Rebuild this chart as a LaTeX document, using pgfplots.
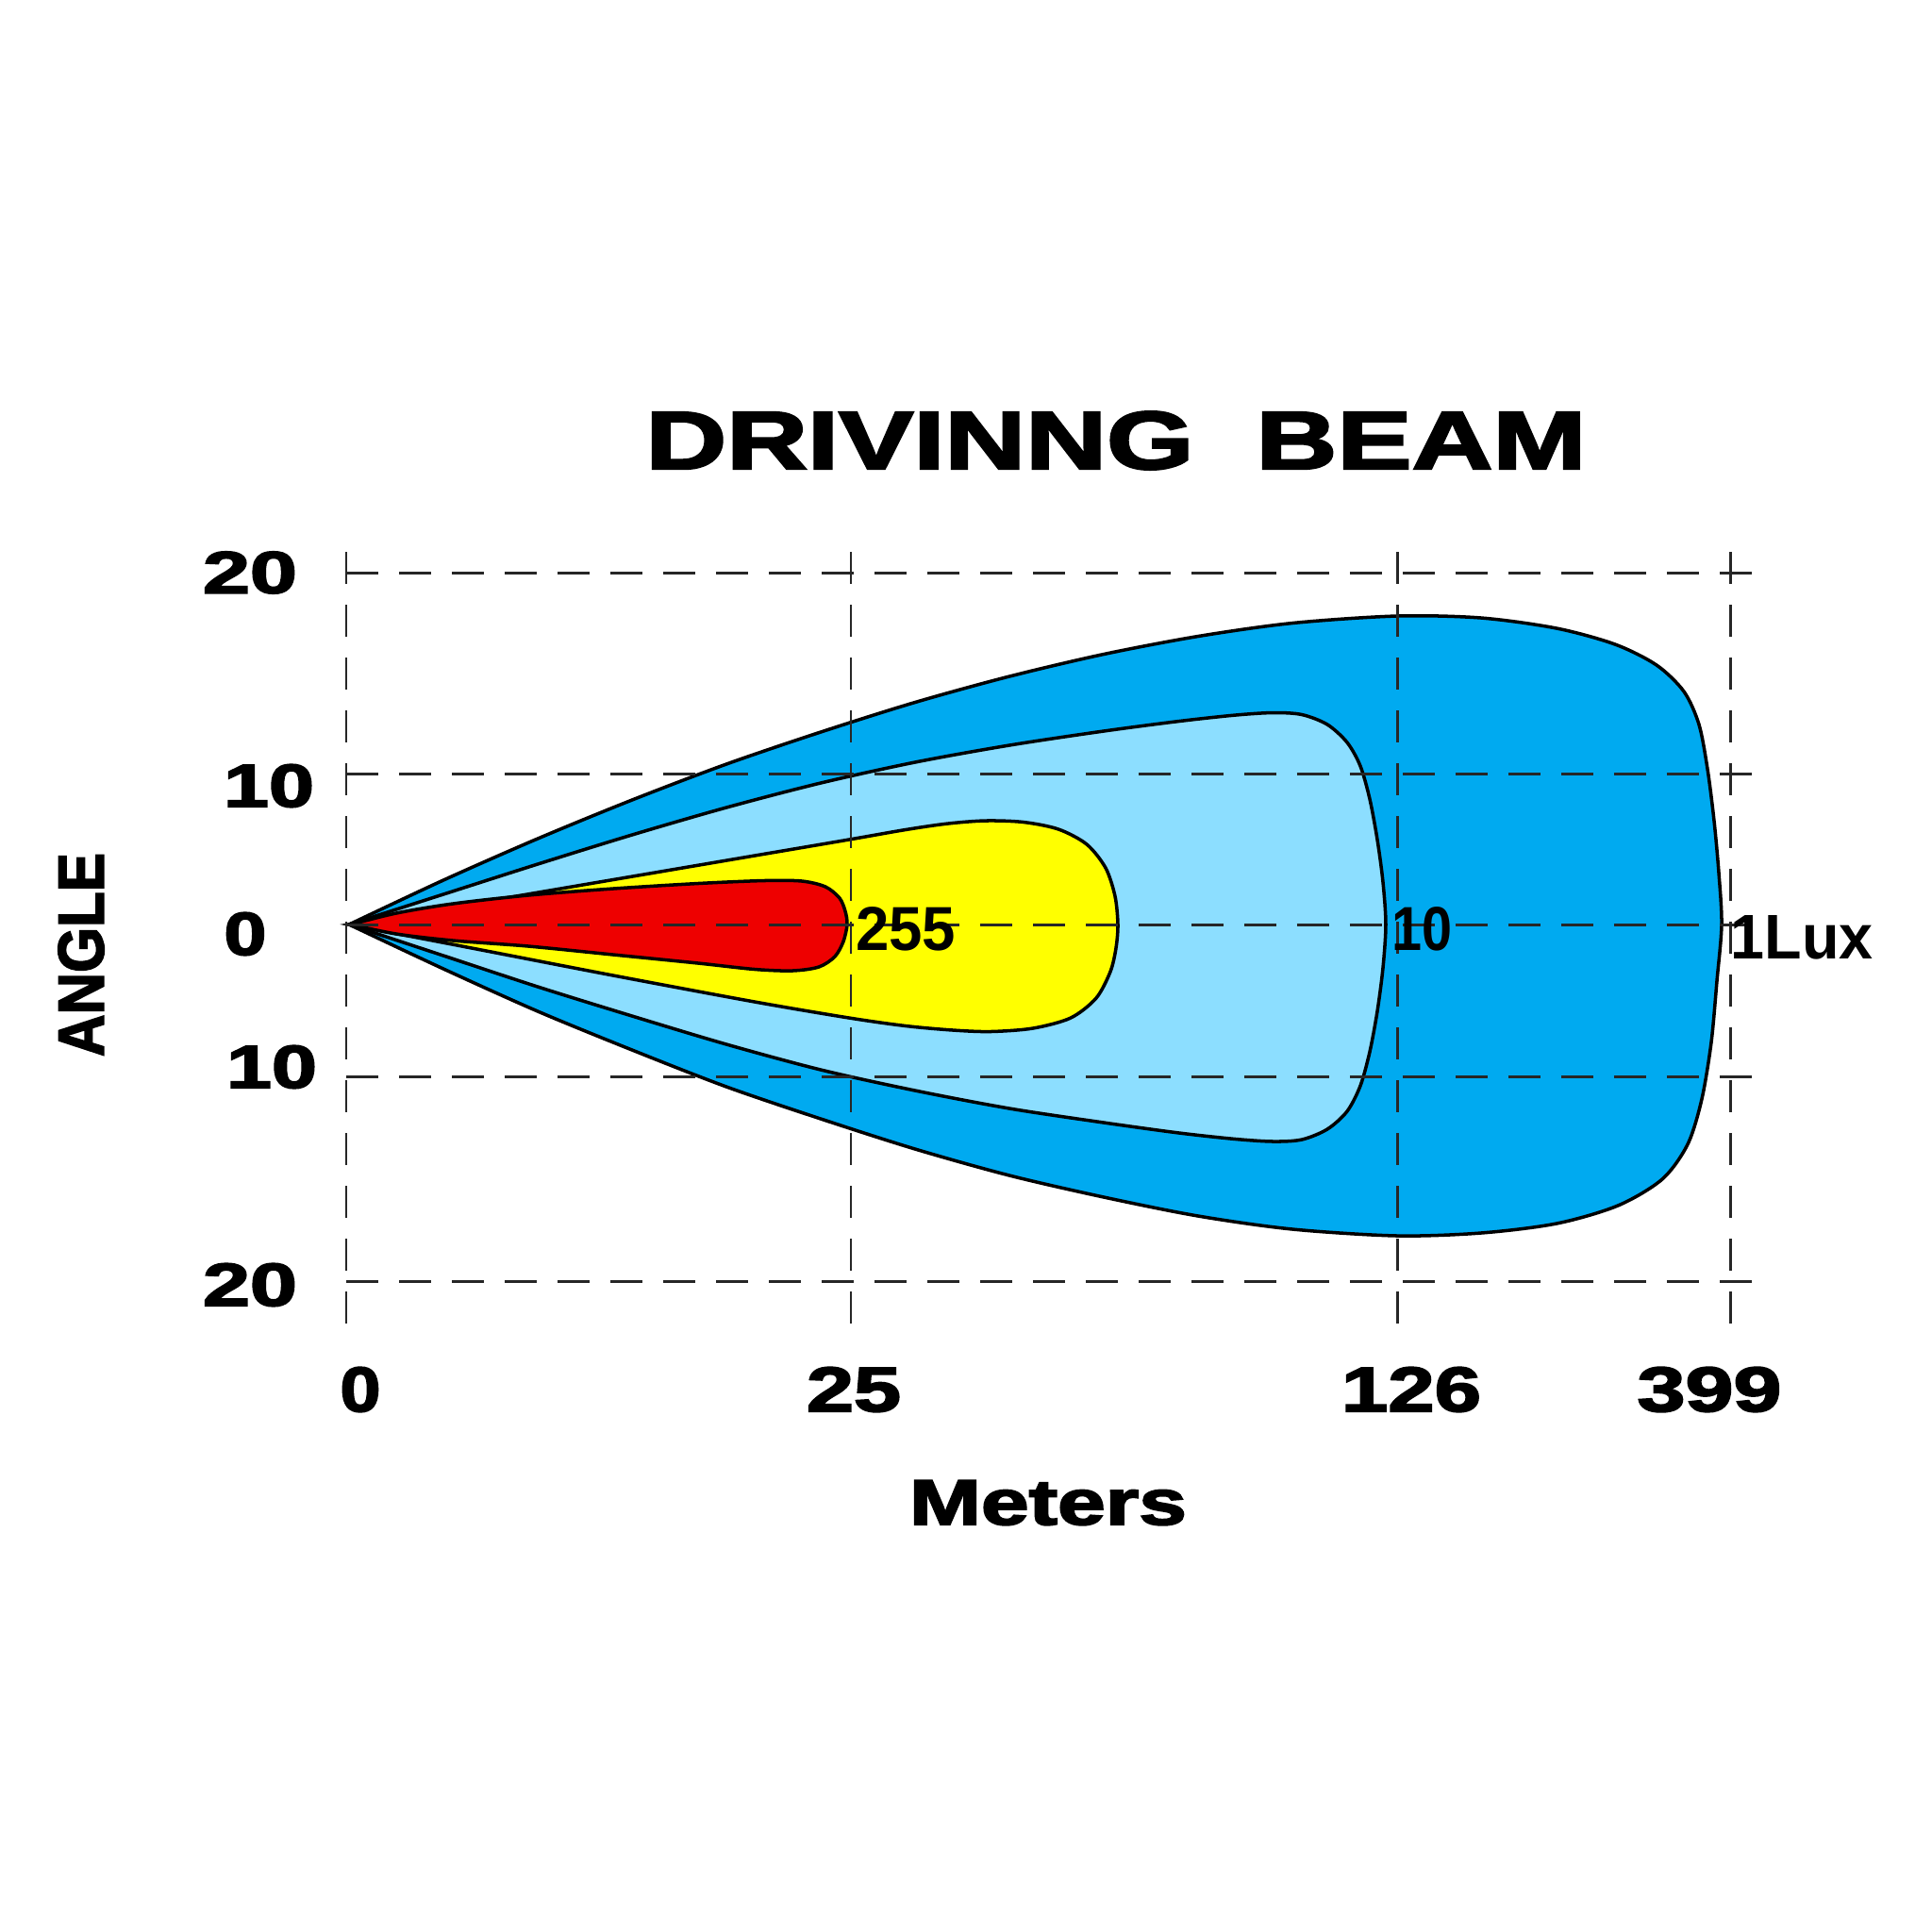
\documentclass[border=0pt]{standalone}
\usepackage{pgfplots}
\pgfplotsset{compat=1.18}
\usepackage{fontspec}
\setmainfont{Liberation Sans}
\newfontfamily\heavy[FakeBold=2.5]{Liberation Sans Bold}
\usepackage{graphicx}
\definecolor{beamdark}{RGB}{0,170,240}
\definecolor{beamlight}{RGB}{140,222,255}
\definecolor{beamyellow}{RGB}{255,255,0}
\definecolor{beamred}{RGB}{238,0,0}
\newcommand{\lbl}[3]{\resizebox{#1cm}{#2cm}{\bfseries #3}}
\newcommand{\hlbl}[3]{\resizebox{#1cm}{#2cm}{\heavy #3}}
\begin{document}
\begin{tikzpicture}
\begin{axis}[
  width=20.48cm, height=20.48cm, scale only axis,
  xmin=0, xmax=2048, ymin=0, ymax=2048, y dir=reverse,
  hide axis, clip=false,
]
\path (axis cs:0,0) rectangle (axis cs:2048,2048);

% 1 lux contour
\addplot[draw=black, line width=1pt, fill=beamdark, smooth] coordinates {
(370,980) (470,933) (570,889) (670,848) (770,810) (870,776) (970,744.5)
(1070,717) (1170,693.5) (1270,674.5) (1370,660.5) (1481,653)
(1570,655) (1650,666) (1712,683) (1756,705) (1785,733) (1801,768) (1810,815)
(1817,870) (1822,925) (1825,980)
(1820,1040) (1814,1105) (1804,1165) (1789,1213) (1762,1250) (1715,1278)
(1650,1297) (1570,1307)
(1481,1310) (1370,1303) (1270,1289) (1170,1269) (1070,1246) (970,1218)
(870,1186) (770,1152) (670,1113) (570,1072) (470,1027) (370,980)
} -- cycle;

% 10 lux contour
\addplot[draw=black, line width=1pt, fill=beamlight, smooth] coordinates {
(370,980) (470,948) (570,916) (670,885) (770,856) (870,830) (970,808)
(1070,790) (1170,775) (1250,764.5) (1310,758) (1350,755.5)
(1380,757.5) (1407,768) (1428,787) (1442,812) (1452,847) (1460,890)
(1466,935) (1469,980)
(1466,1026) (1460,1072) (1452,1115) (1442,1151) (1428,1178) (1407,1197)
(1380,1208)
(1350,1210) (1310,1207.5) (1250,1201) (1170,1190) (1070,1175) (970,1156)
(870,1134) (770,1107) (670,1077) (570,1046) (470,1013) (370,980)
} -- cycle;

% 25 lux contour
\addplot[draw=black, line width=1pt, fill=beamyellow, smooth] coordinates {
(370,980) (500,958) (650,932.5) (800,907) (900,890) (960,879.5) (1005,873)
(1045,870) (1085,871.5) (1122,879) (1152,895) (1172,920) (1182,950) (1185,980)
(1183,1005) (1177,1030) (1162,1058) (1135,1079) (1095,1090) (1050,1093.5)
(1010,1092) (960,1087.5) (900,1079) (800,1062) (650,1034) (500,1005) (370,980)
} -- cycle;

% 255 lux contour
\addplot[draw=black, line width=1pt, fill=beamred, smooth] coordinates {
(372,980) (420,968) (480,958) (560,949) (650,942) (740,936.5) (810,933.5)
(850,934) (875,940) (890,952) (896,966) (898,980)
(894,998) (885,1014) (868,1025) (840,1029) (800,1027.5) (740,1021) (650,1012)
(560,1003) (480,997) (420,990) (372,980)
} -- cycle;

% dashed grid
\draw[black!85, line width=0.85pt, dash pattern=on 0.34cm off 0.22cm] (axis cs:367,607) -- (axis cs:1860,607);
\draw[black!85, line width=0.85pt, dash pattern=on 0.34cm off 0.22cm] (axis cs:367,820) -- (axis cs:1860,820);
\draw[black!85, line width=0.85pt, dash pattern=on 0.34cm off 0.22cm] (axis cs:367,980) -- (axis cs:1860,980);
\draw[black!85, line width=0.85pt, dash pattern=on 0.34cm off 0.22cm] (axis cs:367,1141) -- (axis cs:1860,1141);
\draw[black!85, line width=0.85pt, dash pattern=on 0.34cm off 0.22cm] (axis cs:367,1358) -- (axis cs:1860,1358);
\draw[black!85, line width=0.85pt, dash pattern=on 0.34cm off 0.22cm] (axis cs:367,585) -- (axis cs:367,1420);
\draw[black!85, line width=0.85pt, dash pattern=on 0.34cm off 0.22cm] (axis cs:902,585) -- (axis cs:902,1420);
\draw[black!85, line width=0.85pt, dash pattern=on 0.34cm off 0.22cm] (axis cs:1481,585) -- (axis cs:1481,1420);
\draw[black!85, line width=0.85pt, dash pattern=on 0.34cm off 0.22cm] (axis cs:1834,585) -- (axis cs:1834,1420);

% title
\node[inner sep=0] at (axis cs:1183,467) {\hlbl{9.97}{0.61}{DRIVINNG\ \ BEAM}};

% y tick labels
\node[inner sep=0] at (axis cs:265,607) {\hlbl{1.00}{0.44}{20}};
\node[inner sep=0] at (axis cs:285,833) {\hlbl{0.96}{0.45}{10}};
\node[inner sep=0] at (axis cs:260,990) {\hlbl{0.45}{0.45}{0}};
\node[inner sep=0] at (axis cs:288,1131) {\hlbl{0.96}{0.45}{10}};
\node[inner sep=0] at (axis cs:265,1362) {\hlbl{1.00}{0.45}{20}};

% x tick labels
\node[inner sep=0] at (axis cs:382,1473) {\hlbl{0.43}{0.47}{0}};
\node[inner sep=0] at (axis cs:905,1473) {\hlbl{1.00}{0.47}{25}};
\node[inner sep=0] at (axis cs:1496,1473) {\hlbl{1.48}{0.47}{126}};
\node[inner sep=0] at (axis cs:1812,1473) {\hlbl{1.53}{0.47}{399}};

% axis titles
\node[inner sep=0] at (axis cs:1111,1593) {\hlbl{2.94}{0.47}{Meters}};
\node[inner sep=0, rotate=90] at (axis cs:86,1012) {\hlbl{2.16}{0.48}{ANGLE}};

% contour labels
\node[inner sep=0] at (axis cs:960,985) {\lbl{1.06}{0.46}{255}};
\node[inner sep=0] at (axis cs:1507,985) {\lbl{0.64}{0.46}{10}};
\node[inner sep=0] at (axis cs:1910,994) {\lbl{1.51}{0.46}{1Lux}};
\end{axis}
\end{tikzpicture}
\end{document}
